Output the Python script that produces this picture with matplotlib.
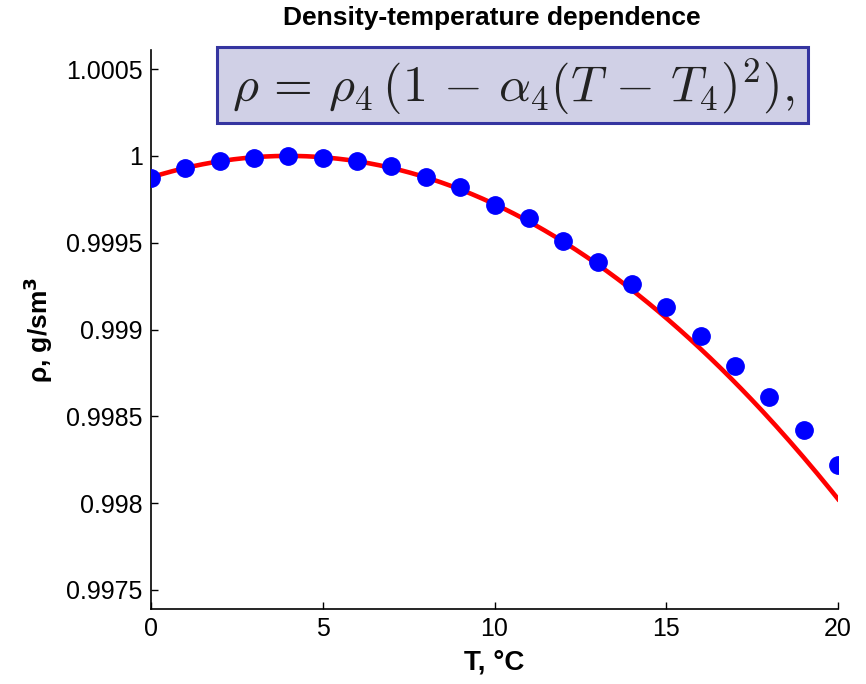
import matplotlib
matplotlib.use("Agg")
import matplotlib.pyplot as plt
from matplotlib.patches import Rectangle
import numpy as np

# measured water density, normalised to the value at 4 degC
temperature = [0, 1, 2, 3, 4, 5, 6, 7, 8, 9, 10,
               11, 12, 13, 14, 15, 16, 17, 18, 19, 20]
density = [0.99987, 0.99993, 0.99997, 0.99999, 1.00000, 0.99999, 0.99997,
           0.99994, 0.99988, 0.99982, 0.99972, 0.99964, 0.99951, 0.99939,
           0.99926, 0.99913, 0.99896, 0.99879, 0.99861, 0.99842, 0.99822]

# quadratic model parameters
rho_4 = 1.0
alpha_4 = 7.72e-6
T_4 = 4.0

x_ticks = [0, 5, 10, 15, 20]
y_ticks = [0.9975, 0.998, 0.9985, 0.999, 0.9995, 1.0, 1.0005]
y_tick_labels = ["0.9975", "0.998", "0.9985", "0.999", "0.9995", "1", "1.0005"]

plt.rcParams["font.family"] = ["Liberation Sans", "DejaVu Sans"]

fig = plt.figure(figsize=(8.66, 6.84), dpi=100)
ax = fig.add_axes([0.1744, 0.1096, 0.7933, 0.8173])

t_fine = np.linspace(temperature[0], temperature[-1], 200)
rho_model = rho_4 * (1 - alpha_4 * (t_fine - T_4) ** 2)
ax.plot(t_fine, rho_model, color="#ff0000", lw=3.3, zorder=2)
ax.plot(temperature, density, "o", color="#0000ff", ms=12.5, mec="#0000ff", zorder=3)

ax.set_xlim(0, 20)
ax.set_ylim(0.99739, 1.00061)
ax.set_xticks(x_ticks)
ax.set_yticks(y_ticks)
ax.set_yticklabels(y_tick_labels)
ax.tick_params(direction="in", length=5, width=1, labelsize=18, pad=6)
ax.spines["top"].set_visible(False)
ax.spines["right"].set_visible(False)
for side in ("left", "bottom"):
    ax.spines[side].set_linewidth(1.2)

fig.text(0.568, 0.973, "Density-temperature dependence", fontsize=19,
         fontweight="bold", ha="center", va="center")
ax.set_xlabel("T, \u00b0C", fontsize=20, fontweight="bold", labelpad=6)
ax.set_ylabel("\u03c1, g/sm$^\\mathbf{3}$", fontsize=19, fontweight="bold", labelpad=8)

# formula panel
box = Rectangle((0.0965, 0.869), 0.860, 0.136, transform=ax.transAxes,
                facecolor="#d0d0e6", edgecolor="#3535a0", linewidth=2.2,
                clip_on=False, zorder=4)
ax.add_patch(box)
ax.text(0.527, 0.934,
        r"$\rho \,=\, \rho_4\,(1 \,-\, \alpha_4(T \,-\, T_4)^2),$",
        transform=ax.transAxes, ha="center", va="center", fontsize=36,
        math_fontfamily="cm", color="#222222", zorder=5)

fig.savefig("out.png", dpi=100)
